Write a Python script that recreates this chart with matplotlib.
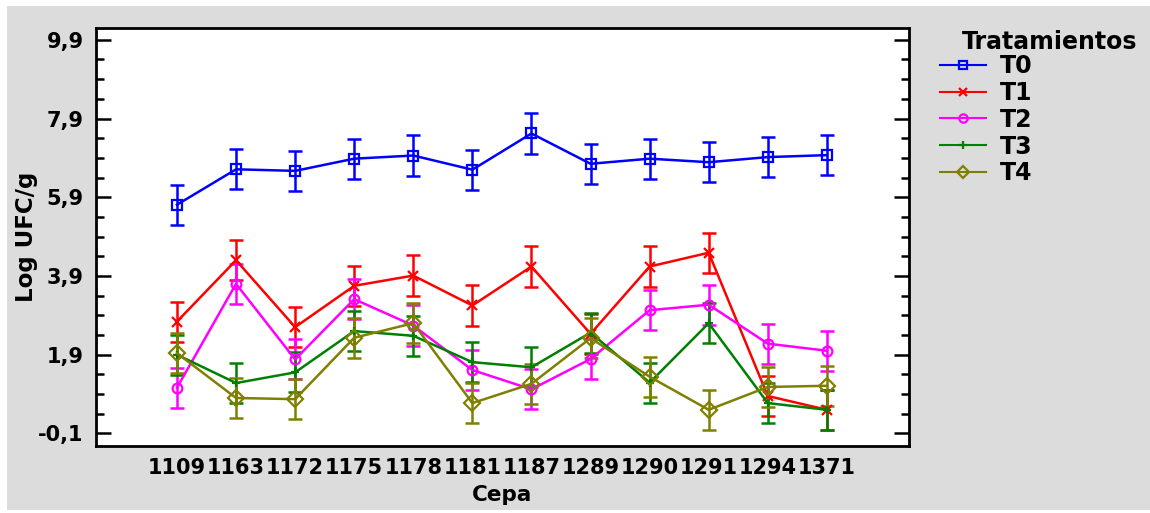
import matplotlib
matplotlib.use("Agg")
import matplotlib.pyplot as plt
from matplotlib.patches import Rectangle
from matplotlib.ticker import FixedLocator
import numpy as np

cepas = ["1109", "1163", "1172", "1175", "1178", "1181", "1187",
         "1289", "1290", "1291", "1294", "1371"]
series_names = ["T0", "T1", "T2", "T3", "T4"]
t0 = [5.71, 6.61, 6.57, 6.88, 6.96, 6.60, 7.52, 6.75, 6.88, 6.79, 6.92, 6.97]
t1 = [2.74, 4.30, 2.60, 3.65, 3.91, 3.15, 4.14, 2.43, 4.14, 4.49, 0.85, 0.50]
t2 = [1.06, 3.70, 1.78, 3.31, 2.64, 1.51, 1.02, 1.79, 3.03, 3.17, 2.18, 2.00]
t3 = [1.90, 1.18, 1.45, 2.50, 2.38, 1.71, 1.58, 2.46, 1.19, 2.70, 0.67, 0.50]
t4 = [1.94, 0.80, 0.77, 2.33, 2.70, 0.67, 1.16, 2.32, 1.34, 0.50, 1.08, 1.11]
err_half = 0.51
yticks = [-0.1, 1.9, 3.9, 5.9, 7.9, 9.9]
ytick_labels = ["-0,1", "1,9", "3,9", "5,9", "7,9", "9,9"]

colors = ["#0000ff", "#ff0000", "#ff00ff", "#008000", "#808000"]
markers = ["s", "x", "o", "+", "D"]
msizes = [7, 7, 7, 6, 8]

plt.rcParams['font.family'] = ['DejaVu Sans']
plt.rcParams['font.weight'] = 'bold'

W, H = 1150, 513
fig = plt.figure(figsize=(W / 100, H / 100), dpi=100, facecolor="white")
fig.patches.append(Rectangle((7 / W, 3 / H), 1 - 7 / W, 1 - 9 / H,
                             transform=fig.transFigure, facecolor="#dcdcdc",
                             edgecolor="none", zorder=-10))

ax = fig.add_axes([96 / W, 1 - 446 / H, (909 - 96) / W, (446 - 28) / H])
ax.set_zorder(1)
ax.set_facecolor("white")

x = np.arange(len(cepas))
data = [t0, t1, t2, t3, t4]
handles = []
for name, vals, c, m, ms in zip(series_names, data, colors, markers, msizes):
    ax.errorbar(x, vals, yerr=err_half, fmt="none", ecolor=c, elinewidth=1.8,
                capsize=5, capthick=1.8, zorder=2)
    h, = ax.plot(x, vals, color=c, lw=1.8, marker=m, markersize=ms,
                 markerfacecolor="none", markeredgecolor=c, markeredgewidth=1.6,
                 label=name, zorder=3)
    handles.append(h)

ax.set_xlim(-1.37, 12.39)
ax.set_ylim(-0.42, 10.2)
ax.set_xticks(x)
ax.set_xticklabels(cepas, fontsize=15, fontweight="bold")
ax.yaxis.set_major_locator(FixedLocator(yticks))
major_r = [round(t, 2) for t in yticks]
ax.yaxis.set_minor_locator(FixedLocator([v for v in np.arange(-0.1, 10.2, 0.5)
                                         if round(v, 2) not in major_r]))
ax.set_yticklabels(ytick_labels, fontsize=15, fontweight="bold")
ax.tick_params(axis="x", length=0, pad=9)
ax.tick_params(axis="y", which="major", direction="in", length=11, width=1.8,
               left=True, right=True, pad=9)
ax.tick_params(axis="y", which="minor", direction="in", length=5.5, width=1.8,
               left=True, right=True)
for s in ax.spines.values():
    s.set_linewidth(2)
    s.set_color("black")

ax.set_xlabel("Cepa", fontsize=15.5, fontweight="bold", labelpad=5)
ax.set_ylabel("Log UFC/g", fontsize=16.5, fontweight="bold", labelpad=0)

fig.text(962 / W, 1 - 42 / H, "Tratamientos", fontsize=17, fontweight="bold",
         ha="left", va="center")
leg = fig.legend(handles=handles, labels=series_names, loc="upper left",
                 bbox_to_anchor=(940 / W, 1 - 54 / H), frameon=False,
                 fontsize=17, handlelength=1.95, handletextpad=0.6,
                 labelspacing=0.12, borderaxespad=0, borderpad=0)
for t in leg.get_texts():
    t.set_fontweight("bold")
for lh in leg.legend_handles:
    lh.set_linewidth(1.5)
    lh.set_markersize(6)

fig.savefig("out.png", dpi=100, facecolor=fig.get_facecolor())
